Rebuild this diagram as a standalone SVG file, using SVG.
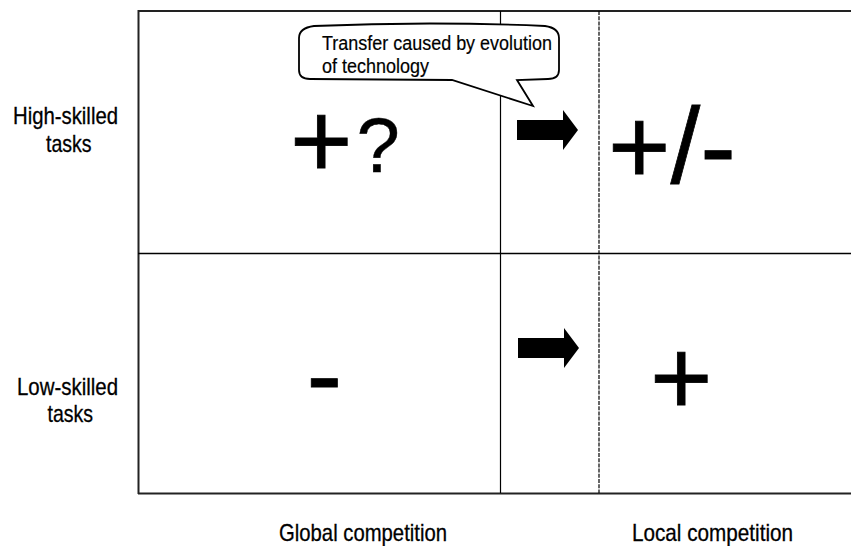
<svg xmlns="http://www.w3.org/2000/svg" width="851" height="546" viewBox="0 0 851 546">
<style>
.lbl{font-family:"Liberation Sans",Arial,sans-serif;font-size:24px;fill:#000;stroke:#000;stroke-width:0.3}
.call{font-family:"Liberation Sans",Arial,sans-serif;font-size:20.5px;fill:#000;stroke:#000;stroke-width:0.2}
.big{font-family:"Liberation Sans",Arial,sans-serif;font-size:107px;fill:#000;stroke:#000;stroke-width:0.8}
.frame{stroke:#222;stroke-width:2;fill:none}
.grid{stroke:#000;stroke-width:1.5;fill:none}
.div{stroke:#000;stroke-width:1.2;fill:none}
</style>
<defs>
<path id="blockArrow" d="M0,-10 L46,-10 L46,-20 L61,0 L46,20 L46,10 L0,10 Z" fill="#000"/>
</defs>
<rect width="851" height="546" fill="#fff"/>
<g id="frame">
<line class="frame" x1="138" y1="11" x2="851" y2="11"/>
<line class="frame" x1="138.5" y1="10" x2="138.5" y2="494"/>
<line class="grid" x1="138" y1="253.5" x2="851" y2="253.5"/>
<line class="frame" x1="138" y1="493.5" x2="851" y2="493.5"/>
<line class="div" x1="500.5" y1="11" x2="500.5" y2="493"/>
<line class="div" x1="599" y1="11" x2="599" y2="493" stroke-dasharray="4,1.2"/>
</g>
<g id="row-high">
<text class="lbl" x="13" y="124" textLength="105" lengthAdjust="spacingAndGlyphs">High-skilled</text>
<text class="lbl" x="46" y="151.5" textLength="45.5" lengthAdjust="spacingAndGlyphs">tasks</text>
</g>
<g id="row-low">
<text class="lbl" x="17" y="395" textLength="101" lengthAdjust="spacingAndGlyphs">Low-skilled</text>
<text class="lbl" x="47.5" y="421.5" textLength="45.5" lengthAdjust="spacingAndGlyphs">tasks</text>
</g>
<g id="col-global">
<text class="lbl" x="279" y="541" textLength="168" lengthAdjust="spacingAndGlyphs">Global competition</text>
</g>
<g id="col-local">
<text class="lbl" x="632" y="541" textLength="161" lengthAdjust="spacingAndGlyphs">Local competition</text>
</g>
<g id="cell-global-high">
<text class="big" x="290" y="177">+</text>
<text class="big" x="356.5" y="172" style="font-size:78px;stroke-width:0.4">?</text>
</g>
<g id="cell-local-high">
<text class="big" x="608" y="183">+/-</text>
</g>
<g id="cell-global-low">
<text class="big" x="306.5" y="411">-</text>
</g>
<g id="cell-local-low">
<text class="big" x="650" y="414">+</text>
</g>
<g id="callout">
<path d="M299,38 Q299,28 314,26 Q430,21 545,26 Q559,28 559,38 L559,70 Q559,79 548,79 L517,80 L533,106 L452,80 L310,79 Q299,79 299,70 Z" fill="#fff" stroke="#000" stroke-width="1.8"/>
<text class="call" x="322" y="50" textLength="230" lengthAdjust="spacingAndGlyphs">Transfer caused by evolution</text>
<text class="call" x="322" y="73" textLength="107" lengthAdjust="spacingAndGlyphs">of technology</text>
</g>
<g id="connectors">
<use href="#blockArrow" x="517" y="130"/>
<use href="#blockArrow" x="518" y="348"/>
</g>
</svg>
